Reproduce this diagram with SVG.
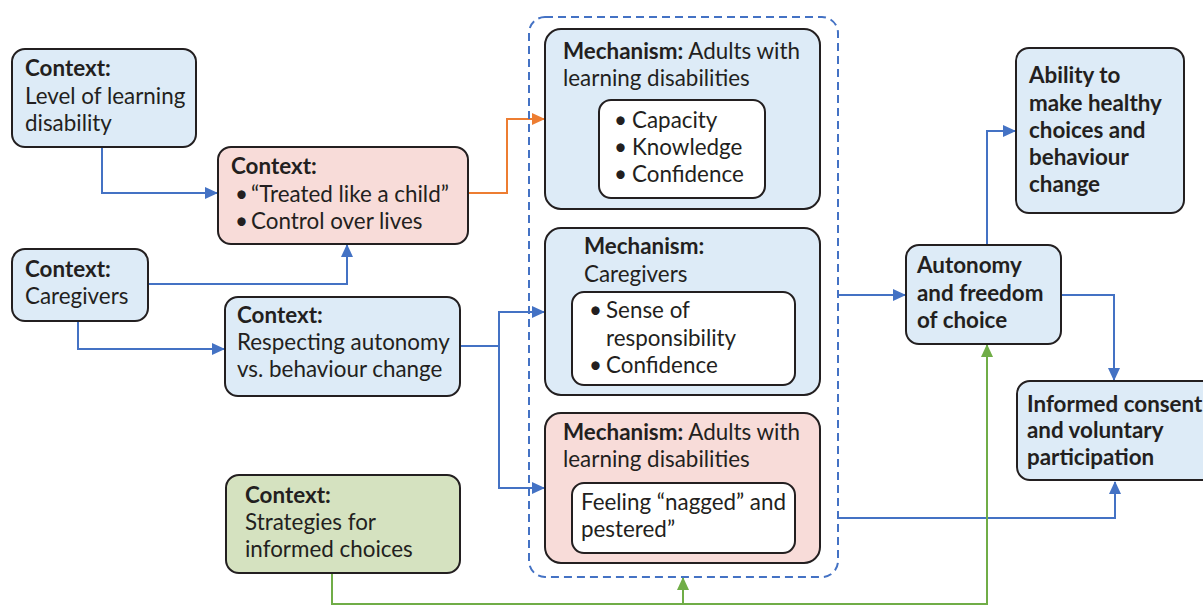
<svg xmlns="http://www.w3.org/2000/svg" width="1203" height="606" viewBox="0 0 1203 606">
<style>
text{font-family:Lato,"Liberation Sans",sans-serif;font-size:22.4px;fill:#231f20}
.b{font-weight:bold}
.box{stroke:#231f20;stroke-width:2}
.blue{fill:#ddebf7}
.pink{fill:#f8dcd9}
.green{fill:#d5e2c0}
.white{fill:#ffffff}
.c{fill:none;stroke-width:2}
.cb{stroke:#4472c4}
.co{stroke:#ed7d31}
.cg{stroke:#70ad47}
</style>
<defs>
<marker id="ab" markerUnits="userSpaceOnUse" markerWidth="13" markerHeight="12" refX="12" refY="6" orient="auto"><path d="M0,0 L13,6 L0,12 z" fill="#4472c4"/></marker>
<marker id="ao" markerUnits="userSpaceOnUse" markerWidth="13" markerHeight="12" refX="12" refY="6" orient="auto"><path d="M0,0 L13,6 L0,12 z" fill="#ed7d31"/></marker>
<marker id="ag" markerUnits="userSpaceOnUse" markerWidth="13" markerHeight="12" refX="12" refY="6" orient="auto"><path d="M0,0 L13,6 L0,12 z" fill="#70ad47"/></marker>
</defs>
<rect width="1203" height="606" fill="#ffffff"/>

<g id="connectors">
<path class="c cb" d="M102,147 V193 H217" marker-end="url(#ab)"/>
<path class="c cb" d="M148,284 H347 V245" marker-end="url(#ab)"/>
<path class="c cb" d="M78,321 V349 H224" marker-end="url(#ab)"/>
<path class="c co" d="M468,193 H507 V119 H544" marker-end="url(#ao)"/>
<path class="c cb" d="M460,346 H499 V312 H544" marker-end="url(#ab)"/>
<path class="c cb" d="M499,346 V488 H544" marker-end="url(#ab)"/>
<path class="c cb" d="M838,295 H905" marker-end="url(#ab)"/>
<path class="c cb" d="M987,245 V131 H1015" marker-end="url(#ab)"/>
<path class="c cb" d="M1061,295 H1114 V380" marker-end="url(#ab)"/>
<path class="c cb" d="M838,518 H1115 V482" marker-end="url(#ab)"/>
<path class="c cg" d="M332,573 V604 H987 V345" marker-end="url(#ag)"/>
<path class="c cg" d="M683,604 V578" marker-end="url(#ag)"/>
</g>

<g id="mechanism-group">
<rect x="529" y="17" width="309" height="560" rx="16" fill="none" stroke="#4472c4" stroke-width="2" stroke-dasharray="8,5"/>
</g>

<g id="ctx-level">
<rect class="box blue" x="12" y="49" width="184" height="98" rx="13"/>
<text x="25" y="76" class="b">Context:</text>
<text x="25" y="104">Level of learning</text>
<text x="25" y="131">disability</text>
</g>

<g id="ctx-treated">
<rect class="box pink" x="218" y="147" width="250" height="97" rx="13"/>
<text x="231" y="174" class="b">Context:</text>
<text x="235" y="202">•</text><text x="251" y="202">“Treated like a child”</text>
<text x="235" y="229">•</text><text x="251" y="229">Control over lives</text>
</g>

<g id="ctx-caregivers">
<rect class="box blue" x="12" y="249" width="136" height="72" rx="13"/>
<text x="25" y="277" class="b">Context:</text>
<text x="25" y="304">Caregivers</text>
</g>

<g id="ctx-respecting">
<rect class="box blue" x="225" y="297" width="235" height="99" rx="13"/>
<text x="237" y="323" class="b">Context:</text>
<text x="237" y="350">Respecting autonomy</text>
<text x="237" y="377">vs. behaviour change</text>
</g>

<g id="ctx-strategies">
<rect class="box green" x="226" y="475" width="234" height="98" rx="13"/>
<text x="245" y="503" class="b">Context:</text>
<text x="245" y="530">Strategies for</text>
<text x="245" y="557">informed choices</text>
</g>

<g id="mech-adults">
<rect class="box blue" x="545" y="29" width="275" height="180" rx="16"/>
<text x="563" y="59"><tspan class="b">Mechanism:</tspan> Adults with</text>
<text x="563" y="86">learning disabilities</text>
<rect class="box white" x="599" y="100" width="166" height="98" rx="12"/>
<text x="614" y="128">•</text><text x="632" y="128">Capacity</text>
<text x="614" y="155">•</text><text x="632" y="155">Knowledge</text>
<text x="614" y="182">•</text><text x="632" y="182">Confidence</text>
</g>

<g id="mech-caregivers">
<rect class="box blue" x="545" y="228" width="275" height="167" rx="16"/>
<text x="584" y="254" class="b">Mechanism:</text>
<text x="584" y="282">Caregivers</text>
<rect class="box white" x="572" y="292" width="223" height="93" rx="12"/>
<text x="589" y="318">•</text><text x="606" y="318">Sense of</text>
<text x="606" y="346">responsibility</text>
<text x="589" y="373">•</text><text x="606" y="373">Confidence</text>
</g>

<g id="mech-nagged">
<rect class="box pink" x="545" y="413" width="275" height="150" rx="16"/>
<text x="563" y="440"><tspan class="b">Mechanism:</tspan> Adults with</text>
<text x="563" y="467">learning disabilities</text>
<rect class="box white" x="572" y="483" width="223" height="70" rx="12"/>
<text x="581" y="510">Feeling “nagged” and</text>
<text x="581" y="537">pestered”</text>
</g>

<g id="out-autonomy">
<rect class="box blue" x="906" y="245" width="155" height="99" rx="13"/>
<text x="917" y="273" class="b">Autonomy</text>
<text x="917" y="301" class="b">and freedom</text>
<text x="917" y="328" class="b">of choice</text>
</g>

<g id="out-ability">
<rect class="box blue" x="1016" y="48" width="168" height="165" rx="13"/>
<text x="1029" y="83" class="b">Ability to</text>
<text x="1029" y="111" class="b">make healthy</text>
<text x="1029" y="138" class="b">choices and</text>
<text x="1029" y="165" class="b">behaviour</text>
<text x="1029" y="192" class="b">change</text>
</g>

<g id="out-consent">
<rect class="box blue" x="1017" y="381" width="200" height="99" rx="13"/>
<text x="1027" y="412" class="b">Informed consent</text>
<text x="1027" y="438" class="b">and voluntary</text>
<text x="1027" y="465" class="b">participation</text>
</g>
</svg>
